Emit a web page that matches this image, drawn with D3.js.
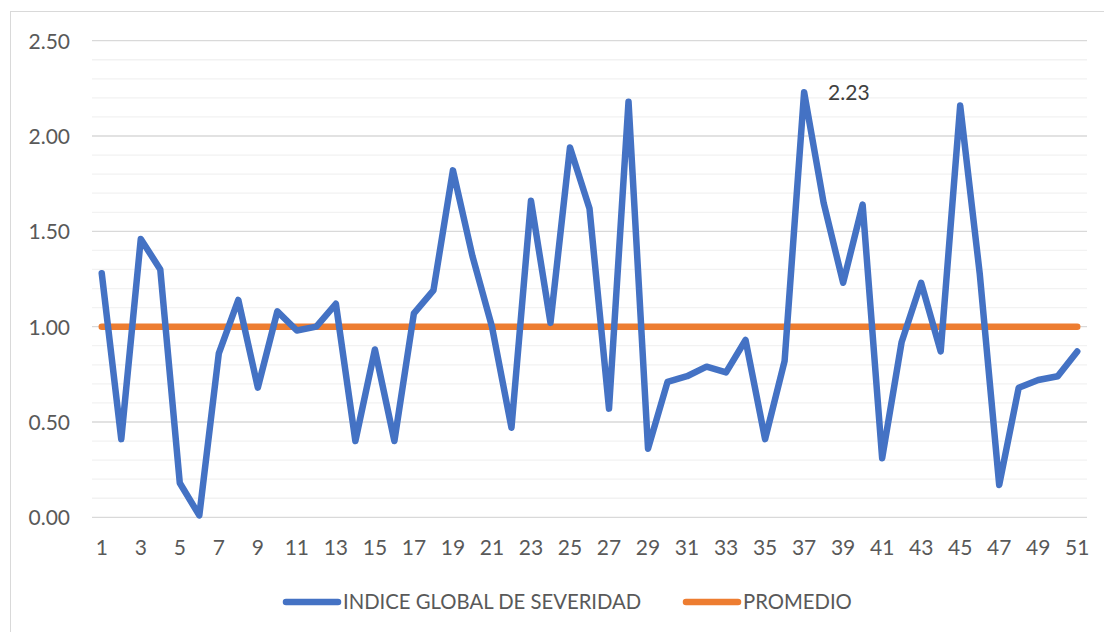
<!DOCTYPE html>
<html>
<head>
<meta charset="utf-8">
<script src="https://cdn.jsdelivr.net/npm/d3@7"></script>
<style>
  html, body { margin: 0; padding: 0; background: #fff; }
  svg { display: block; }
  text { font-family: Lato, "Open Sans", sans-serif; }
</style>
</head>
<body>
<svg id="chart" width="1104" height="632"></svg>
<script>
const categories = d3.range(1, 52);
const indiceGlobal = [
  1.28, 0.41, 1.46, 1.30, 0.18, 0.01, 0.86, 1.14, 0.68, 1.08,
  0.98, 1.00, 1.12, 0.40, 0.88, 0.40, 1.07, 1.19, 1.82, 1.37,
  1.00, 0.47, 1.66, 1.02, 1.94, 1.62, 0.57, 2.18, 0.36, 0.71,
  0.74, 0.79, 0.76, 0.93, 0.41, 0.82, 2.23, 1.65, 1.23, 1.64,
  0.31, 0.92, 1.23, 0.87, 2.16, 1.28, 0.17, 0.68, 0.72, 0.74,
  0.87
];
const promedio = categories.map(() => 1.00);
const yTicks = [0, 0.5, 1.0, 1.5, 2.0, 2.5];
const xTickLabels = categories.filter(c => c % 2 === 1);
const seriesNames = ["INDICE GLOBAL DE SEVERIDAD", "PROMEDIO"];
const labelIndex = 36; // category 37, value 2.23

const svg = d3.select("#chart");
const W = 1104, H = 632;
const plot = { left: 92, right: 1087, top: 40.7, bottom: 517.3 };

// chart area border (top and left visible)
svg.append("rect")
  .attr("x", 10.5).attr("y", 11.5)
  .attr("width", W + 20).attr("height", H + 20)
  .attr("fill", "#fff").attr("stroke", "#d9d9d9").attr("stroke-width", 1);

const x = d3.scaleBand().domain(categories).range([plot.left, plot.right]);
const y = d3.scaleLinear().domain([0, 2.5]).range([plot.bottom, plot.top]);
const cx = c => x(c) + x.bandwidth() / 2;

// minor gridlines
const minor = d3.range(0, 26).map(i => i / 10).filter(v => Math.round(v * 10) % 5 !== 0);
svg.append("g").selectAll("line").data(minor).join("line")
  .attr("x1", plot.left).attr("x2", plot.right)
  .attr("y1", d => y(d)).attr("y2", d => y(d))
  .attr("stroke", "#f2f2f2").attr("stroke-width", 1.3);

// major gridlines
svg.append("g").selectAll("line").data(yTicks).join("line")
  .attr("x1", plot.left).attr("x2", plot.right)
  .attr("y1", d => y(d)).attr("y2", d => y(d))
  .attr("stroke", "#d9d9d9").attr("stroke-width", 1.3);

// y axis labels
const yAxis = d3.axisLeft(y).tickValues(yTicks).tickFormat(d3.format(".2f")).tickSize(0).tickPadding(0);
const gy = svg.append("g").attr("transform", `translate(70,0)`).call(yAxis);
gy.select(".domain").remove();
gy.selectAll("text").attr("fill", "#595959").style("font-size", "21px").attr("dy", "0.35em").attr("font-family", "Lato, sans-serif");

// x axis labels
const xAxis = d3.axisBottom(x).tickValues(xTickLabels).tickSize(0).tickPadding(0);
const gx = svg.append("g").attr("transform", `translate(0,${plot.bottom})`).call(xAxis);
gx.select(".domain").remove();
gx.selectAll("text").attr("fill", "#595959").style("font-size", "21px").attr("y", 30).attr("dy", "0.35em").attr("font-family", "Lato, sans-serif");

// lines
const line = d3.line().x((d, i) => cx(categories[i])).y(d => y(d));
svg.append("path").datum(promedio).attr("d", line)
  .attr("fill", "none").attr("stroke", "#ed7d31").attr("stroke-width", 6.5)
  .attr("stroke-linecap", "round").attr("stroke-linejoin", "round");
svg.append("path").datum(indiceGlobal).attr("d", line)
  .attr("fill", "none").attr("stroke", "#4472c4").attr("stroke-width", 6.5)
  .attr("stroke-linecap", "round").attr("stroke-linejoin", "round");

// data label
svg.append("text")
  .attr("x", cx(categories[labelIndex]) + 24)
  .attr("y", y(indiceGlobal[labelIndex]))
  .attr("dy", "0.35em")
  .attr("fill", "#404040").style("font-size", "21px")
  .text(d3.format(".2f")(indiceGlobal[labelIndex]));

// legend
const legendColors = ["#4472c4", "#ed7d31"];
const legendX = [283, 683];
const lg = svg.append("g");
seriesNames.forEach((name, i) => {
  lg.append("line")
    .attr("x1", legendX[i] + 3).attr("x2", legendX[i] + 55)
    .attr("y1", 602).attr("y2", 602)
    .attr("stroke", legendColors[i]).attr("stroke-width", 6.5).attr("stroke-linecap", "round");
  lg.append("text")
    .attr("x", legendX[i] + 60).attr("y", 602).attr("dy", "0.35em")
    .attr("fill", "#595959").style("font-size", "20.3px")
    .text(name);
});
</script>
</body>
</html>
